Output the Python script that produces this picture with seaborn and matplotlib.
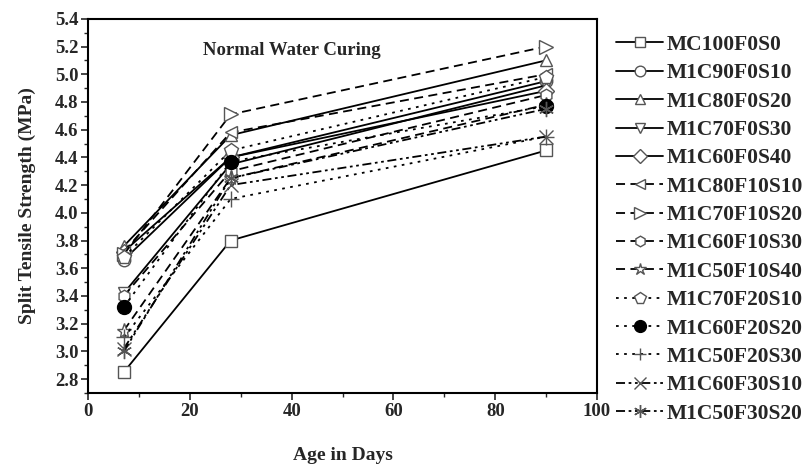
import matplotlib
matplotlib.use("Agg")
import matplotlib.pyplot as plt
import seaborn as sns
import pandas as pd
from matplotlib.ticker import MultipleLocator

sns.set_theme(style="ticks")
plt.rcParams['font.family'] = ['Liberation Serif', 'DejaVu Serif']

days = [7, 28, 90]
names = ["MC100F0S0", "M1C90F0S10", "M1C80F0S20", "M1C70F0S30", "M1C60F0S40",
         "M1C80F10S10", "M1C70F10S20", "M1C60F10S30", "M1C50F10S40",
         "M1C70F20S10", "M1C60F20S20", "M1C50F20S30", "M1C60F30S10", "M1C50F30S20"]
mc100f0s0 = [2.85, 3.80, 4.45]
m1c90f0s10 = [3.66, 4.40, 4.95]
m1c80f0s20 = [3.76, 4.56, 5.10]
m1c70f0s30 = [3.42, 4.35, 4.92]
m1c60f0s40 = [3.72, 4.40, 4.88]
m1c80f10s10 = [3.72, 4.58, 5.00]
m1c70f10s20 = [3.70, 4.71, 5.20]
m1c60f10s30 = [3.40, 4.30, 4.85]
m1c50f10s40 = [3.15, 4.25, 4.78]
m1c70f20s10 = [3.68, 4.45, 4.98]
m1c60f20s20 = [3.32, 4.37, 4.77]
m1c50f20s30 = [3.10, 4.10, 4.55]
m1c60f30s10 = [3.02, 4.20, 4.55]
m1c50f30s20 = [3.00, 4.25, 4.75]
values = [mc100f0s0, m1c90f0s10, m1c80f0s20, m1c70f0s30, m1c60f0s40,
          m1c80f10s10, m1c70f10s20, m1c60f10s30, m1c50f10s40,
          m1c70f20s10, m1c60f20s20, m1c50f20s30, m1c60f30s10, m1c50f30s20]

markers = ['s', 'o', '^', 'v', 'D', '<', '>', 'h', '*', 'p', 'o', '+', 'x', (6, 2, 0)]
styles = ['-'] * 5 + [(0, (5, 3))] * 4 + [(0, (1.5, 3))] * 3 + [(0, (5, 2, 1.5, 2, 1.5, 2))] * 2
msizes = [9, 9, 9, 9, 8, 9, 10, 9, 11, 10, 10, 11, 10, 11]

fig = plt.figure(figsize=(8.09, 4.70), dpi=100)
ax = fig.add_axes([0.109, 0.164, 0.629, 0.796])

for i, (nm, v) in enumerate(zip(names, values)):
    df = pd.DataFrame({"day": days, "val": v})
    filled = (i == 10)
    sns.lineplot(data=df, x="day", y="val", ax=ax, color='black', linestyle=styles[i],
                 linewidth=1.3, marker=markers[i], markersize=msizes[i],
                 markerfacecolor='black' if filled else 'white',
                 markeredgecolor='black' if filled else '#555555',
                 markeredgewidth=1.0, label=nm)

ax.set_xlim(0, 100)
ax.set_ylim(2.7, 5.4)
ax.xaxis.set_major_locator(MultipleLocator(20))
ax.xaxis.set_minor_locator(MultipleLocator(10))
ax.yaxis.set_minor_locator(MultipleLocator(0.1))
ax.set_yticks([round(2.8 + 0.2 * k, 1) for k in range(14)])
ax.yaxis.set_major_formatter(matplotlib.ticker.FormatStrFormatter('%.1f'))
ax.tick_params(which='major', direction='out', length=5, width=1.2, labelsize=13.5, pad=2)
ax.tick_params(which='minor', direction='out', length=3, width=1.0)
for lab in ax.get_xticklabels() + ax.get_yticklabels():
    lab.set_fontweight('bold')
for s in ax.spines.values():
    s.set_linewidth(1.5)
    s.set_color('black')

ax.set_xlabel("Age in Days", fontsize=14, fontweight='bold', labelpad=20)
ax.set_ylabel("Split Tensile Strength (MPa)", fontsize=14, fontweight='bold', labelpad=14)
ax.text(40, 5.17, "Normal Water Curing", fontsize=13.5, fontweight='bold', ha='center', va='center')

ax.legend(loc='upper left', bbox_to_anchor=(1.02, 0.98), frameon=False,
          prop={'weight': 'bold', 'size': 15.5}, handlelength=2.2, handletextpad=0.15,
          labelspacing=0.385, borderaxespad=0, markerscale=0.85)

fig.savefig("out.png", dpi=100)
